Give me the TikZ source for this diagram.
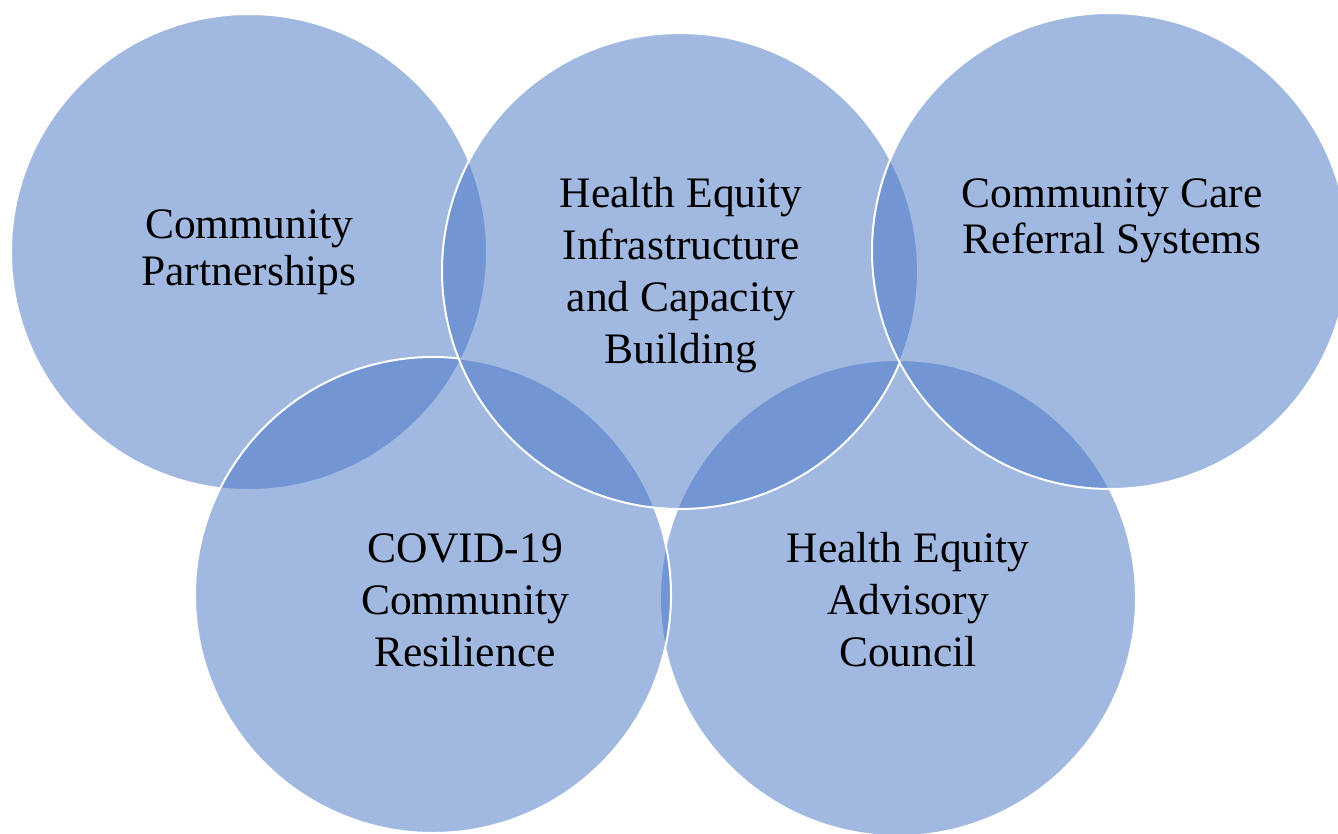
\documentclass[tikz,border=0pt]{standalone}
\usepackage{fontspec}
\setmainfont{Liberation Serif}
\usetikzlibrary{positioning}
\definecolor{accentblue}{HTML}{4472C4}

\begin{document}
\begin{tikzpicture}[
  x=1pt, y=-1pt,
  ring/.style={circle, draw=white, line width=2pt, fill=accentblue,
    fill opacity=0.5, draw opacity=1, minimum size=476pt, inner sep=0pt},
  ringtext/.style={align=center, text=black, text opacity=1,
    font=\fontsize{43.5}{52}\selectfont},
  tightlines/.style={font=\fontsize{43.5}{46.5}\selectfont}
]
\useasboundingbox (0,0) rectangle (1338,833);
\clip (0,0) rectangle (1338,833);

\node[ring] (partners) at (249,252) {};
\node[ring] (council) at (898,598) {};
\node[ring] (covid) at (433,595) {};
\node[ring] (infra) at (680,271) {};
\node[ring] (referral) at (1110,251) {};

\node[ringtext, tightlines] (partnerstext) at (partners) {Community\\Partnerships};
\node[ringtext] (infratext) at (681,275) {Health Equity\\Infrastructure\\and Capacity\\Building};
\node[ringtext, tightlines] (referraltext) at (1112,221) {Community Care\\Referral Systems};
\node[ringtext] (covidtext) at (465,600) {COVID-19\\Community\\Resilience};
\node[ringtext] (counciltext) at (908,600) {Health Equity\\Advisory\\Council};
\end{tikzpicture}
\end{document}
